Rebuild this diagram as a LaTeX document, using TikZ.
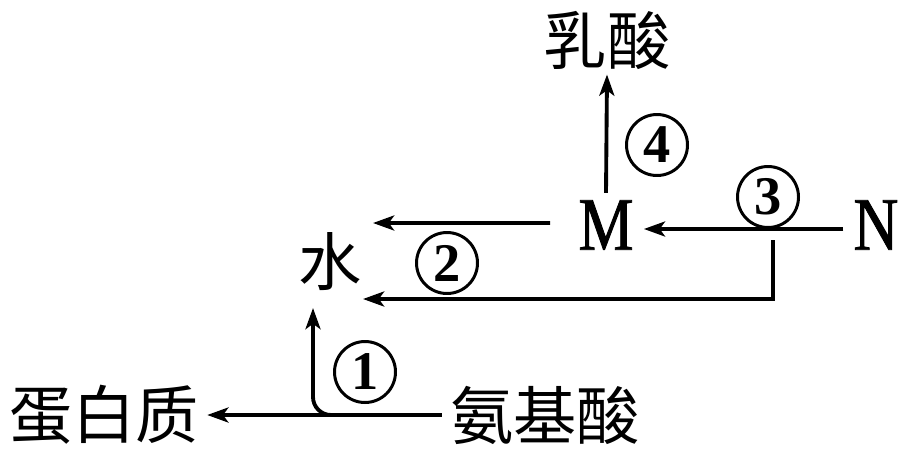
\documentclass[tikz,border=0pt]{standalone}
\usepackage{fontspec}
\newfontfamily\cjk{Noto Sans CJK SC}
\newfontfamily\latin[FakeBold=1.2,FakeStretch=0.82]{Liberation Serif}
\newfontfamily\digits{Liberation Serif}
\usetikzlibrary{arrows.meta}
\usetikzlibrary{positioning}

\begin{document}
\begin{tikzpicture}[x=0.02cm,y=-0.02cm,
    arr/.style={line width=2.2pt,-{Stealth[length=12pt,width=8.5pt,inset=3pt]}},
    word/.style={inner xsep=0.16cm,inner ysep=0pt,font=\cjk\fontsize{36}{40}\selectfont},
    letter/.style={inner xsep=0.2cm,inner ysep=0.14cm,font=\latin\fontsize{43}{46}\selectfont},
    num/.style={circle,draw,line width=1.7pt,minimum size=1.22cm,inner sep=0pt,
      font=\digits\bfseries\fontsize{31}{33}\selectfont}]
        \useasboundingbox (0,0) rectangle (898,457);

        % Stoffe
        \node[word] (protein) at (104,415) {蛋白质};
        \node[word] (amino) at (545,415) {氨基酸};
        \node[word] (water) at (330,262) {水};
        \node[letter] (M) at (606,225) {M};
        \node[letter,inner xsep=0pt] (N) at (876,225) {N};
        \node[word] (lactic) at (607,40) {乳酸};

        % Enden der Pfeile am Wasser
        \coordinate (in1) at (313,308);
        \coordinate (in2) at (363,299);
        \coordinate (in3) at (373,223);
        \coordinate (fork) at (773,240);

        % Pfeile
        \draw[arr] (amino.west) -- (protein.east);
        \draw[arr,rounded corners=0.36cm] (amino.west) -| (in1);
        \draw[arr] ([xshift=-0.2cm,yshift=-0.08cm]N.west) -- ([yshift=-0.08cm]M.east);
        \draw[arr] ([xshift=-0.36cm,yshift=0.04cm]M.west) -- (in3);
        \draw[arr] (fork) |- (in2);
        \draw[arr] (M.north) -- ([yshift=-0.1cm]lactic.south);

        % Nummern
        \node[num] (n1) at (365,372) {1};
        \node[num] (n2) at (447,263) {2};
        \node[num] (n3) at (768,197) {3};
        \node[num] (n4) at (657,145) {4};
    \end{tikzpicture}
\end{document}
